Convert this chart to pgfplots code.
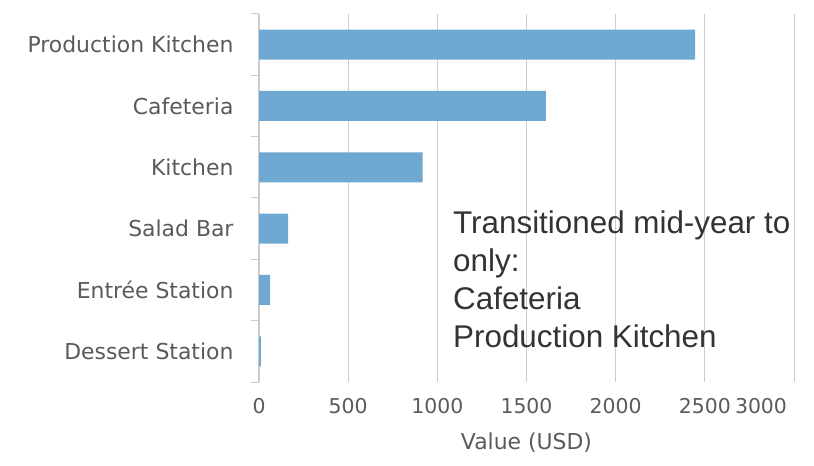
\documentclass[border=0pt]{standalone}
\usepackage{pgfplots}
\pgfplotsset{compat=1.18}
\usepackage{fontspec}
\setmainfont{DejaVu Sans}
\newfontfamily\annfont{Liberation Sans}
\definecolor{barblue}{HTML}{6FA8D3}
\definecolor{gridgray}{HTML}{CCCCCC}
\definecolor{labgray}{HTML}{5A5A5A}
\begin{document}
\begin{tikzpicture}
\path[use as bounding box] (0,0) rectangle (814bp,466bp);
\begin{axis}[
  at={(259bp,84bp)}, anchor=south west,
  scale only axis, width=535bp, height=368bp,
  xbar, bar width=30bp,
  xmin=0, xmax=3000,
  ymin=-0.5, ymax=5.5,
  ytick={0,1,2,3,4,5},
  yticklabels={Dessert Station,Entrée Station,Salad Bar,Kitchen,Cafeteria,Production Kitchen},
  minor ytick={-0.5,0.5,1.5,2.5,3.5,4.5,5.5},
  major tick length=0pt,
  minor tick length=8bp,
  tick align=outside,
  minor tick style={gridgray, line width=1bp},
  xtick={0,500,1000,1500,2000,2500},
  xticklabels={0,500,1000,1500,2000,2500},
  extra x ticks={3000},
  extra x tick labels={3000},
  extra x tick style={grid=major, xticklabel style={xshift=-33bp}},
  xmajorgrids, major grid style={gridgray, line width=1bp},
  axis x line*=bottom,
  x axis line style={draw=none},
  axis y line*=left,
  y axis line style={gridgray, line width=1.2bp, -},
  xticklabel style={font=\fontsize{20.5}{24}\selectfont, text=labgray, yshift=-13bp},
  yticklabel style={font=\fontsize{22}{24}\selectfont, text=labgray, xshift=-22bp},
  xlabel={Value (USD)},
  xlabel style={font=\fontsize{22}{24}\selectfont, text=labgray, yshift=-12bp},
  /pgf/number format/assume math mode=true,
  clip=false,
]
\addplot[fill=barblue, draw=none] coordinates {
  (10,0) (62,1) (163,2) (918,3) (1608,4) (2445,5)
};
\end{axis}
\node[anchor=north west, align=left, font=\annfont\fontsize{31.5}{38}\selectfont, text=black!80, inner sep=0pt] at (453bp,255bp)
  {Transitioned mid-year to\\only:\\Cafeteria\\Production Kitchen};
\end{tikzpicture}
\end{document}
